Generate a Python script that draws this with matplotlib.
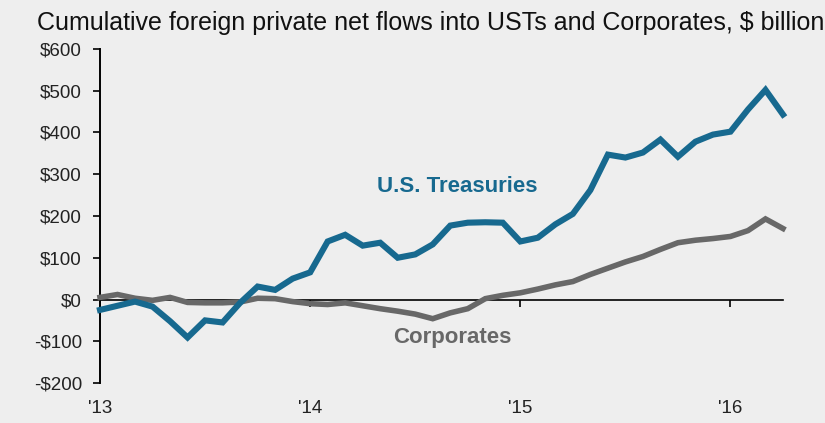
import numpy as np
import matplotlib.pyplot as plt
from matplotlib.transforms import blended_transform_factory

plt.rcParams['font.family'] = ['Liberation Sans', 'DejaVu Sans']

# Monthly, Jan 2013 .. Apr 2016 (cumulative, $ billion)
months = np.arange(40)
treasuries = [-25, -15, -5, -17, -52, -91, -50, -55, -8, 31,
              23, 50, 65, 139, 155, 129, 136, 100, 108, 132,
              177, 184, 185, 184, 139, 148, 180, 205, 262, 347,
              340, 352, 383, 342, 378, 395, 402, 455, 502, 443]
corporates = [5, 12, 3, -2, 5, -7, -8, -8, -6, 3,
              2, -5, -10, -12, -8, -15, -22, -28, -35, -46,
              -32, -22, 2, 10, 16, 25, 35, 43, 60, 75,
              90, 103, 120, 136, 142, 146, 151, 165, 193, 170]
year_ticks = [0, 12, 24, 36]
year_labels = ["'13", "'14", "'15", "'16"]
y_ticks = [-200, -100, 0, 100, 200, 300, 400, 500, 600]

BLUE = '#17698f'
GRAY = '#686868'
BG = '#eeeeee'

fig = plt.figure(figsize=(8.25, 4.23), dpi=100, facecolor=BG)
ax = fig.add_axes([100 / 825, 1 - 383 / 423, 683 / 825, 334 / 423], facecolor=BG)

ax.plot(months, corporates, color=GRAY, lw=4.0, solid_joinstyle='miter',
        zorder=3, clip_on=False)
ax.plot(months, treasuries, color=BLUE, lw=4.4, solid_joinstyle='miter',
        zorder=4, clip_on=False)

ax.set_xlim(0, 39)
ax.set_ylim(-200, 600)

for s in ['top', 'right']:
    ax.spines[s].set_visible(False)
ax.spines['left'].set_linewidth(1.4)
ax.spines['bottom'].set_position(('data', 0))
ax.spines['bottom'].set_linewidth(1.2)
ax.spines['bottom'].set_zorder(2)

ax.set_yticks(y_ticks)
ax.set_yticklabels([f'${v}' if v >= 0 else f'-${-v}' for v in y_ticks])
ax.tick_params(axis='y', length=5, width=1.2, pad=8, labelsize=13.5,
               labelcolor='#222222')
ax.set_xticks(year_ticks)
ax.set_xticklabels([])
ax.tick_params(axis='x', length=5, width=1.2)

# Year labels sit below the plot, independent of the zero-line axis
trans = blended_transform_factory(ax.transData, ax.transAxes)
for t, lab in zip(year_ticks, year_labels):
    ax.text(t, -0.075, lab, transform=trans, ha='center', va='center',
            fontsize=13.5, color='#222222')

ax.text(20.4, 271, 'U.S. Treasuries', color=BLUE, fontsize=16,
        fontweight='bold', ha='center', va='center')
ax.text(20.1, -91, 'Corporates', color=GRAY, fontsize=16,
        fontweight='bold', ha='center', va='center')

fig.text(37 / 825, 1 - 30 / 423,
         'Cumulative foreign private net flows into USTs and Corporates, $ billion',
         fontsize=18, ha='left', va='baseline', color='#111111')

fig.savefig('out.png', dpi=100, facecolor=BG)
